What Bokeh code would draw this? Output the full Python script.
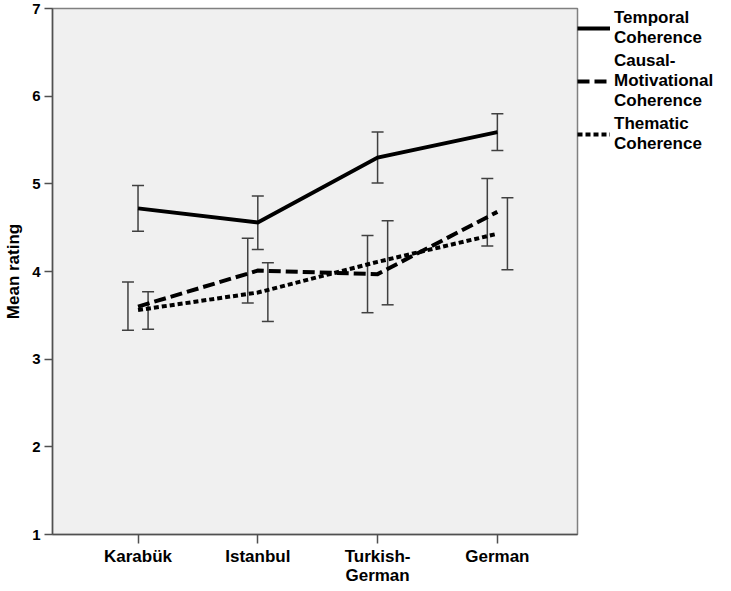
from bokeh.plotting import figure
from bokeh.models import (Range1d, FixedTicker, Whisker, TeeHead, ColumnDataSource,
                          Legend, LegendItem)
from bokeh.embed import file_html
from bokeh.resources import INLINE

# ---------------- data ----------------
groups = ["Karabük", "Istanbul", "Turkish-\nGerman", "German"]
y_ticks = [1, 2, 3, 4, 5, 6, 7]

temporal_mean = [4.72, 4.56, 5.30, 5.59]
temporal_low = [4.46, 4.25, 5.01, 5.38]
temporal_high = [4.98, 4.86, 5.59, 5.80]

causal_mean = [3.60, 4.01, 3.97, 4.68]
causal_low = [3.33, 3.64, 3.53, 4.29]
causal_high = [3.88, 4.38, 4.41, 5.06]

thematic_mean = [3.56, 3.76, 4.11, 4.43]
thematic_low = [3.34, 3.43, 3.62, 4.02]
thematic_high = [3.77, 4.10, 4.58, 4.84]

legend_labels = ["Temporal\nCoherence",
                 "Causal-\nMotivational\nCoherence",
                 "Thematic\nCoherence"]

# ---------------- styles ----------------
FONT = "Liberation Sans"
dashes = ["solid", "12 5", "5 3"]
dodge = [0.0, -0.084, 0.084]

idx = list(range(len(groups)))

p = figure(frame_width=525, frame_height=526, output_backend="svg",
           toolbar_location=None,
           x_range=Range1d(-0.714, 3.669), y_range=Range1d(1, 7),
           min_border_top=8, min_border_bottom=48, min_border_left=52,
           min_border_right=0)
p.border_fill_color = "white"
p.background_fill_color = "#F0F0F0"
p.outline_line_color = "#808080"
p.outline_line_width = 1.5
p.grid.visible = False

# axes
p.xaxis.ticker = FixedTicker(ticks=idx)
p.xaxis.major_label_overrides = {i: g for i, g in zip(idx, groups)}
p.yaxis.ticker = FixedTicker(ticks=y_ticks)
for ax in (p.xaxis[0], p.yaxis[0]):
    ax.axis_line_color = "#505050"
    ax.axis_line_width = 1.5
    ax.major_tick_line_color = "#505050"
    ax.major_tick_line_width = 1.5
    ax.major_tick_in = 0
    ax.minor_tick_line_color = None
    ax.major_label_text_font = FONT
    ax.major_label_text_font_style = "bold"
    ax.major_label_text_color = "black"
p.xaxis.major_tick_out = 9
p.xaxis.major_label_standoff = 3
p.xaxis.major_label_text_font_size = "17px"
p.xaxis.major_label_text_line_height = 1.05
p.yaxis.major_tick_out = 8
p.yaxis.major_label_standoff = 4
p.yaxis.major_label_text_font_size = "15px"
p.yaxis.axis_label = "Mean rating"
p.yaxis.axis_label_text_font = FONT
p.yaxis.axis_label_text_font_style = "bold"
p.yaxis.axis_label_text_font_size = "17px"
p.yaxis.axis_label_standoff = 6
p.yaxis.axis_label_text_color = "black"

series = [(temporal_mean, temporal_low, temporal_high),
          (causal_mean, causal_low, causal_high),
          (thematic_mean, thematic_low, thematic_high)]

renderers = []
for k, (m, lo, hi) in enumerate(series):
    r = p.line(idx, m, line_color="black", line_width=4, line_dash=dashes[k],
               line_join="miter")
    renderers.append(r)

for k, (m, lo, hi) in enumerate(series):
    src = ColumnDataSource(dict(x=[i + dodge[k] for i in idx], lo=lo, hi=hi))
    w = Whisker(source=src, base="x", lower="lo", upper="hi", dimension="height",
                line_color="#404040", line_width=1.5,
                upper_head=TeeHead(size=12, line_color="#404040", line_width=1.5),
                lower_head=TeeHead(size=12, line_color="#404040", line_width=1.5))
    p.add_layout(w)

legend = Legend(items=[LegendItem(label=t, renderers=[r])
                       for t, r in zip(legend_labels, renderers)],
                location="top_left", orientation="vertical",
                margin=0, padding=6, spacing=3,
                glyph_width=33, glyph_height=20, label_standoff=4,
                label_text_font=FONT, label_text_font_style="bold",
                label_text_font_size="17px", label_text_line_height=1.15,
                label_text_color="black",
                border_line_color=None, background_fill_alpha=0)
p.add_layout(legend, "right")

open("out.html", "w").write(file_html(p, INLINE))
